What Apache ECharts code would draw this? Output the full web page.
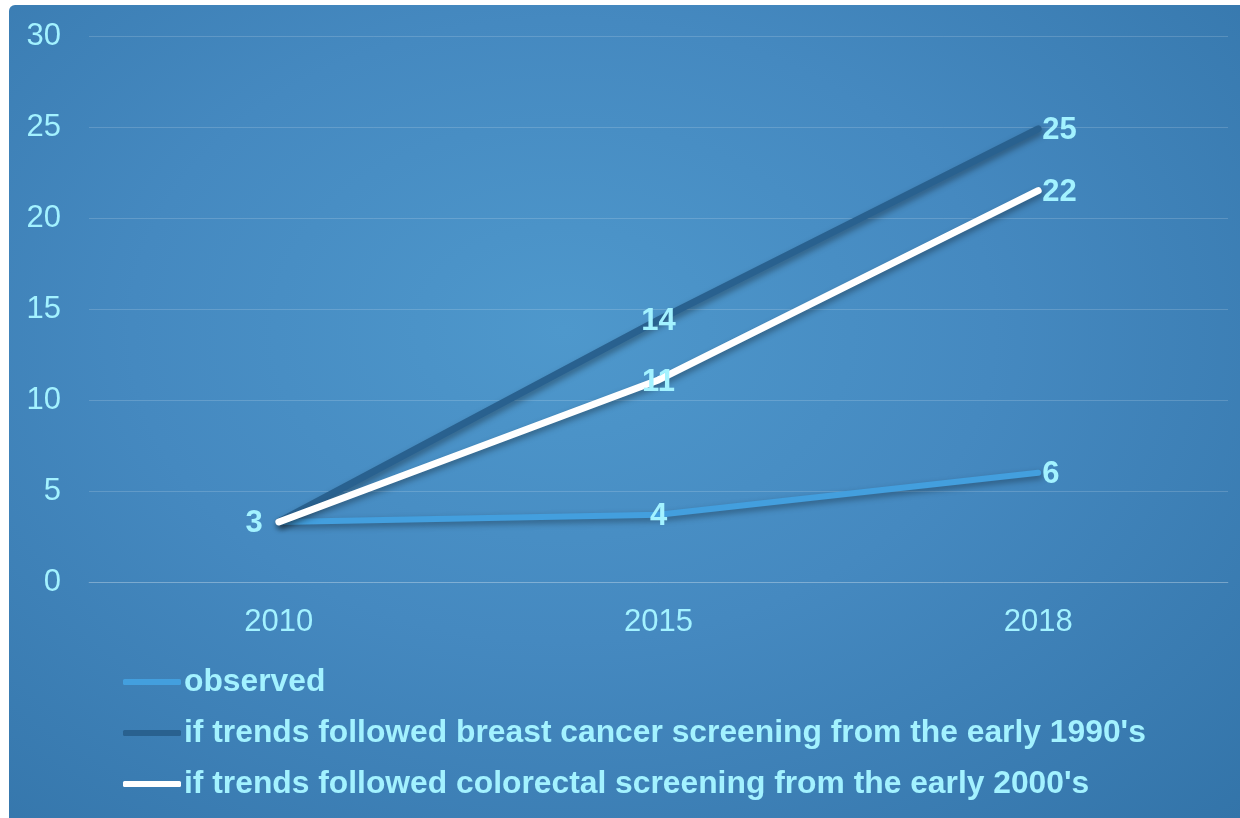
<!DOCTYPE html>
<html>
<head>
<meta charset="utf-8">
<script src="https://cdn.jsdelivr.net/npm/echarts@6/dist/echarts.min.js"></script>
<style>
  html, body { margin: 0; padding: 0; background: #ffffff; width: 1240px; height: 818px; overflow: hidden; }
  #chart {
    position: absolute; left: 9px; top: 5px; width: 1231px; height: 813px;
    border-top-left-radius: 6px;
    background: radial-gradient(ellipse at 45% 40%, #4e98cc 0%, #4589c0 45%, #3374a9 100%);
  }
</style>
</head>
<body>
<div id="chart"></div>
<script>
// Years on the horizontal axis
const years = ['2010', '2015', '2018'];

// Series values
const observed = [3.3, 3.7, 6.0];
const breastTrend = [3.3, 14.4, 24.9];
const colorectalTrend = [3.3, 11.1, 21.5];

// Series names shown in the legend
const seriesNames = [
  'observed',
  "if trends followed breast cancer screening from the early 1990's",
  "if trends followed colorectal screening from the early 2000's"
];

// Y axis range
const yMin = 0, yMax = 30, yStep = 5;

// Label placement per point
const labelPositions = ['left', 'inside', 'right'];

const textColor = '#a3f2ff';
const fontFamily = 'Liberation Sans, Arial, sans-serif';
const chart = echarts.init(document.getElementById('chart'), null, { renderer: 'canvas' });

// The three lines share their first point, so only one series labels it
function makeSeries(name, values, color, width, labelFirst) {
  return {
    name: name,
    type: 'line',
    data: values.map((v, i) => ({
      value: v,
      label: {
        show: i > 0 || labelFirst,
        position: labelPositions[i],
        distance: i === 0 ? 16 : 4,
        offset: [0, 2]
      }
    })),
    symbol: 'circle',
    symbolSize: 0.1,
    itemStyle: { color: color },
    lineStyle: {
      color: color, width: width, cap: 'round', join: 'round',
      shadowColor: 'rgba(0,0,0,0.35)', shadowBlur: 6, shadowOffsetX: 2, shadowOffsetY: 3
    },
    label: {
      show: true,
      color: textColor,
      fontFamily: fontFamily,
      fontWeight: 'bold',
      fontSize: 31,
      formatter: p => Math.round(p.value)
    },
    emphasis: { disabled: true },
    animation: false
  };
}

chart.setOption({
  backgroundColor: 'transparent',
  grid: { left: 80, right: 12, top: 31, bottom: 236 },
  xAxis: {
    type: 'category',
    data: years,
    boundaryGap: true,
    axisLine: { show: true, lineStyle: { color: 'rgba(255,255,255,0.18)', width: 1 } },
    axisTick: { show: false },
    axisLabel: { color: textColor, fontSize: 31, margin: 25, fontFamily: fontFamily }
  },
  yAxis: {
    type: 'value',
    min: yMin, max: yMax, interval: yStep,
    axisLine: { show: false },
    axisTick: { show: false },
    splitLine: { lineStyle: { color: 'rgba(255,255,255,0.16)', width: 1 } },
    axisLabel: { color: textColor, fontSize: 31, margin: 28, fontFamily: fontFamily }
  },
  legend: {
    orient: 'vertical',
    left: 109,
    top: 656,
    itemWidth: 58,
    itemHeight: 6,
    itemGap: 19,
    icon: 'roundRect',
    data: seriesNames,
    textStyle: {
      color: textColor, fontSize: 31.8, fontWeight: 'bold',
      fontFamily: fontFamily,
      padding: [0, 0, 0, -2]
    }
  },
  series: [
    makeSeries(seriesNames[0], observed, '#439fde', 6, true),
    makeSeries(seriesNames[1], breastTrend, '#29618f', 7, false),
    makeSeries(seriesNames[2], colorectalTrend, '#ffffff', 7, false)
  ]
});
</script>
</body>
</html>
